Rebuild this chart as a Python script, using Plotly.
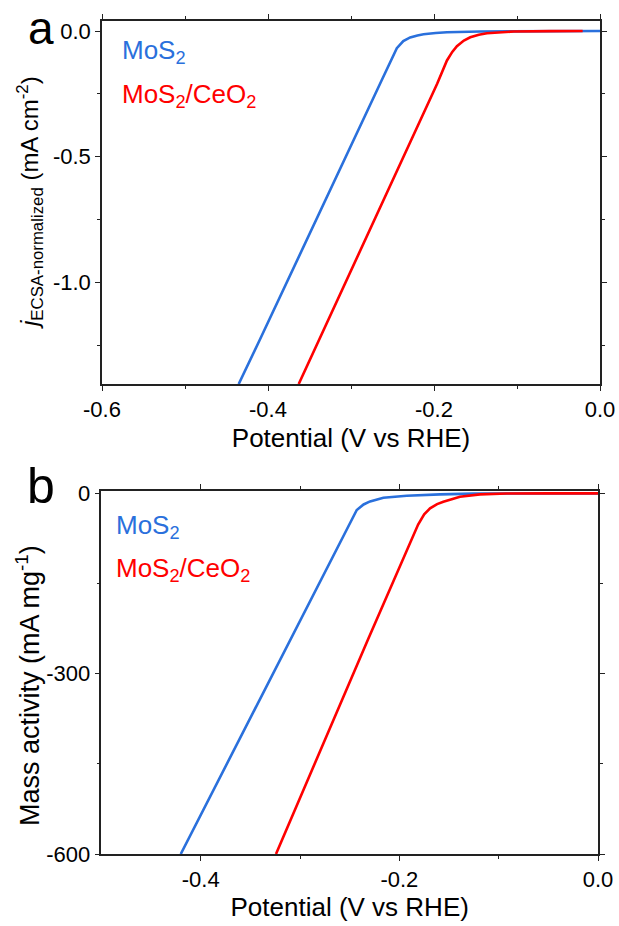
import plotly.graph_objects as go

# ---- Data ----
# Panel a: ECSA-normalized current density
a_mos2_v = [-0.4353, -0.410, -0.2633, -0.2448, -0.2370, -0.2287, -0.2200, -0.2126, -0.1980, -0.1844, -0.144, -0.100, -0.050, 0.0]
a_mos2_j = [-1.405, -1.230, -0.198, -0.068, -0.040, -0.0255, -0.0175, -0.013, -0.0075, -0.0045, -0.0015, -0.0005, -0.0002, 0.0]
a_ceo2_v = [-0.363, -0.3385, -0.1962, -0.1844, -0.1780, -0.1724, -0.1640, -0.1563, -0.1460, -0.1362, -0.1200, -0.1041, -0.060, -0.0209]
a_ceo2_j = [-1.405, -1.230, -0.210, -0.117, -0.083, -0.060, -0.038, -0.025, -0.015, -0.009, -0.004, -0.0015, -0.0003, 0.0]

# Panel b: mass activity
b_mos2_v = [-0.4201, -0.341, -0.3088, -0.2587, -0.2429, -0.2360, -0.2295, -0.2161, -0.1926, -0.159, -0.1255, -0.060, 0.0]
b_mos2_m = [-600, -344, -242, -80.0, -27.7, -18.5, -13.5, -7.3, -4.0, -1.7, -0.5, -0.2, 0.0]
b_ceo2_v = [-0.3242, -0.258, -0.2317, -0.1811, -0.1750, -0.1691, -0.1620, -0.1557, -0.139, -0.1188, -0.092, -0.050, 0.0]
b_ceo2_m = [-600, -343, -243.4, -52.0, -35.0, -25.0, -18.0, -13.9, -5.6, -1.7, -0.4, -0.1, 0.0]

series_names = ["MoS<sub>2</sub>", "MoS<sub>2</sub>/CeO<sub>2</sub>"]
a_xticks = [-0.6, -0.4, -0.2, 0.0]
a_yticks = [0.0, -0.5, -1.0]
b_xticks = [-0.4, -0.2, 0.0]
b_yticks = [0, -300, -600]

a_ytitle = "<i>j</i><sub>ECSA-normalized</sub> (mA cm<sup>-2</sup>)"
b_ytitle = "Mass activity (mA mg<sup>-1</sup>)"
xtitle = "Potential (V vs RHE)"

BLUE = "#2A70DC"
RED = "#FF0000"
FONT = "Liberation Sans, Arial, sans-serif"
AX = "#222222"

fig = go.Figure()
fig.add_trace(go.Scatter(x=a_mos2_v, y=a_mos2_j, mode="lines", line=dict(color=BLUE, width=2.6),
                         xaxis="x", yaxis="y", showlegend=False))
fig.add_trace(go.Scatter(x=a_ceo2_v, y=a_ceo2_j, mode="lines", line=dict(color=RED, width=2.6),
                         xaxis="x", yaxis="y", showlegend=False))
fig.add_trace(go.Scatter(x=b_mos2_v, y=b_mos2_m, mode="lines", line=dict(color=BLUE, width=2.6),
                         xaxis="x2", yaxis="y2", showlegend=False))
fig.add_trace(go.Scatter(x=b_ceo2_v, y=b_ceo2_m, mode="lines", line=dict(color=RED, width=2.6),
                         xaxis="x2", yaxis="y2", showlegend=False))

W, H = 619, 926

def axis_common():
    return dict(showline=True, linecolor=AX, linewidth=1.5, mirror="allticks",
                ticks="outside", ticklen=5, tickwidth=1.2, tickcolor=AX,
                showgrid=False, zeroline=False, automargin=False,
                tickfont=dict(family=FONT, size=22, color="black"))

xa = axis_common()
xa.update(domain=[102 / W, 600 / W], range=[-0.6, 0.0], anchor="y",
          tickvals=a_xticks, ticktext=[f"{v:.1f}" for v in a_xticks],
          minor=dict(ticks="outside", ticklen=3, tickvals=[-0.5, -0.3, -0.1], tickcolor=AX),
          title=dict(text=xtitle, font=dict(family=FONT, size=26, color="black"), standoff=8))
ya = axis_common()
ya.update(domain=[1 - 384 / H, 1 - 20.5 / H], range=[-1.405, 0.042], anchor="x",
          tickvals=a_yticks, ticktext=[f"{v:.1f}" for v in a_yticks],
          minor=dict(ticks="outside", ticklen=3, tickvals=[-0.25, -0.75, -1.25], tickcolor=AX))
xb = axis_common()
xb.update(domain=[101.4 / W, 598 / W], range=[-0.5, 0.0], anchor="y2",
          tickvals=b_xticks, ticktext=[f"{v:.1f}" for v in b_xticks],
          minor=dict(ticks="outside", ticklen=3, tickvals=[-0.3, -0.1], tickcolor=AX),
          title=dict(text=xtitle, font=dict(family=FONT, size=26, color="black"), standoff=0))
yb = axis_common()
yb.update(domain=[1 - 854 / H, 1 - 490.5 / H], range=[-600, 4.7], anchor="x2",
          tickvals=b_yticks, ticktext=[str(v) for v in b_yticks],
          minor=dict(ticks="outside", ticklen=3, tickvals=[-150, -450], tickcolor=AX))

fig.update_layout(
    width=W, height=H, margin=dict(l=0, r=0, t=0, b=0),
    paper_bgcolor="white", plot_bgcolor="white",
    xaxis=xa, yaxis=ya, xaxis2=xb, yaxis2=yb,
    font=dict(family=FONT, color="black"),
)

# y-axis titles
fig.add_annotation(text=a_ytitle, x=30 / W, y=1 - 203 / H, xref="paper", yref="paper",
                   showarrow=False, textangle=-90, font=dict(family=FONT, size=24, color="black"),
                   xanchor="center", yanchor="middle")
fig.add_annotation(text=b_ytitle, x=28 / W, y=1 - 686 / H, xref="paper", yref="paper",
                   showarrow=False, textangle=-90, font=dict(family=FONT, size=27, color="black"),
                   xanchor="center", yanchor="middle")

# panel letters
fig.add_annotation(text="a", x=26 / W, y=1.0, xref="paper", yref="paper",
                   showarrow=False, font=dict(family=FONT, size=46, color="black"),
                   xanchor="left", yanchor="top")
fig.add_annotation(text="b", x=25 / W, y=1 - 456 / H, xref="paper", yref="paper",
                   showarrow=False, font=dict(family=FONT, size=50, color="black"),
                   xanchor="left", yanchor="top")

# in-plot labels (legend)
fig.add_annotation(text=series_names[0], x=120 / W, y=1 - 51 / H, xref="paper", yref="paper",
                   showarrow=False, font=dict(family=FONT, size=26, color=BLUE),
                   xanchor="left", yanchor="middle")
fig.add_annotation(text=series_names[1], x=120 / W, y=1 - 95 / H, xref="paper", yref="paper",
                   showarrow=False, font=dict(family=FONT, size=26, color=RED),
                   xanchor="left", yanchor="middle")
fig.add_annotation(text=series_names[0], x=114 / W, y=1 - 526 / H, xref="paper", yref="paper",
                   showarrow=False, font=dict(family=FONT, size=26, color=BLUE),
                   xanchor="left", yanchor="middle")
fig.add_annotation(text=series_names[1], x=114 / W, y=1 - 569 / H, xref="paper", yref="paper",
                   showarrow=False, font=dict(family=FONT, size=26, color=RED),
                   xanchor="left", yanchor="middle")

fig.write_html("out.html")
